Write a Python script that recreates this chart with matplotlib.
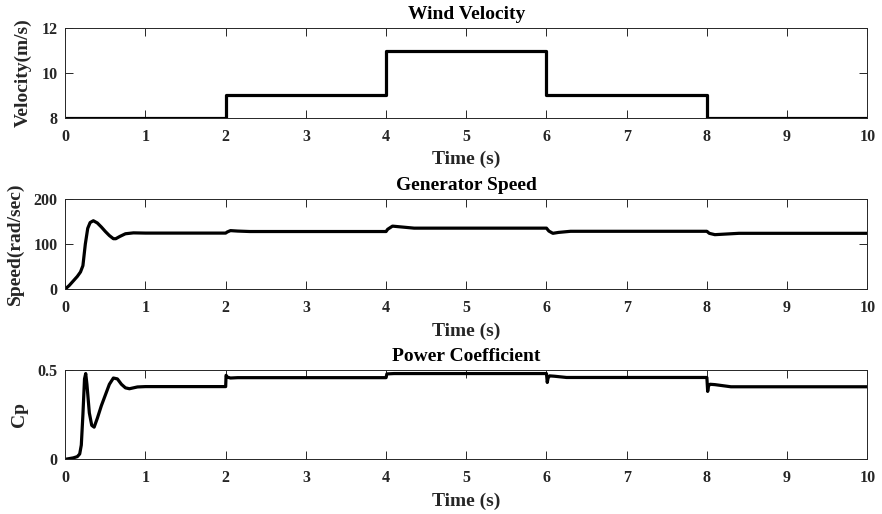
import numpy as np
import matplotlib
matplotlib.use('Agg')
import matplotlib.pyplot as plt

# wind steps (m/s)
wind_t = [0, 2, 4, 6, 8, 10]
wind_v = [8, 9, 11, 9, 8, 8]

# generator speed (rad/sec)
speed_t = [0, 0.05, 0.1, 0.15, 0.19, 0.22, 0.25, 0.28, 0.31, 0.35, 0.4, 0.45, 0.5,
           0.55, 0.6, 0.63, 0.68, 0.75, 0.85, 1.0, 2.0, 2.02, 2.06, 2.15, 2.3,
           4.0, 4.02, 4.08, 4.2, 4.35, 6.0, 6.03, 6.08, 6.15, 6.3,
           8.0, 8.03, 8.1, 8.2, 8.4, 10.0]
speed_w = [0, 8, 18, 28, 38, 52, 100, 135, 148, 152, 147, 138, 128,
           119, 112, 112, 117, 123, 125, 124.5, 124.5, 127, 130, 129, 128,
           128, 133, 140, 138, 135.5, 135.5, 129, 124, 126, 128.5,
           128.5, 124, 121, 122, 124, 124]

# power coefficient
cp_t = [0, 0.1, 0.15, 0.18, 0.2, 0.22, 0.24, 0.255, 0.27, 0.3, 0.33, 0.36, 0.4,
        0.45, 0.5, 0.55, 0.6, 0.65, 0.7, 0.75, 0.8, 0.9, 1.0, 2.0, 2.005,
        2.02, 2.06, 2.15, 4.0, 4.01, 4.1, 6.0, 6.01, 6.02, 6.04, 6.1, 6.25,
        8.0, 8.01, 8.02, 8.04, 8.1, 8.3, 10.0]
cp_v = [0, 0.008, 0.015, 0.03, 0.08, 0.25, 0.45, 0.48, 0.42, 0.26, 0.19, 0.18, 0.23,
        0.3, 0.36, 0.42, 0.455, 0.45, 0.42, 0.40, 0.395, 0.405, 0.407, 0.407, 0.47,
        0.46, 0.455, 0.457, 0.457, 0.478, 0.48, 0.48, 0.43, 0.455, 0.467, 0.465, 0.458,
        0.458, 0.38, 0.41, 0.42, 0.418, 0.406, 0.406]

titles = ['Wind Velocity', 'Generator Speed', 'Power Coefficient']
ylabels = ['Velocity(m/s)', 'Speed(rad/sec)', 'Cp']
yticks = [[8, 10, 12], [0, 100, 200], [0, 0.5]]
yticklabels = [['8', '10', '12'], ['0', '100', '200'], ['0', '0.5']]
ylims = [(8, 12), (0, 200), (0, 0.5)]
xticks = list(range(0, 11))

plt.rcParams['font.family'] = ['Liberation Serif', 'DejaVu Serif']
plt.rcParams['font.weight'] = 'bold'
gray = '#262626'

fig = plt.figure(figsize=(8.82, 5.14), dpi=100)
rects = [(0.0740, 0.7710, 0.9093, 0.1740),
         (0.0740, 0.4377, 0.9093, 0.1748),
         (0.0740, 0.1064, 0.9093, 0.1738)]
series = [(wind_t, wind_v, 'steps-post'), (speed_t, speed_w, 'default'), (cp_t, cp_v, 'default')]

for i, r in enumerate(rects):
    ax = fig.add_axes(r)
    t, v, ds = series[i]
    ax.plot(t, v, color='black', lw=2.3, drawstyle=ds, solid_joinstyle='round')
    ax.set_xlim(0, 10)
    ax.set_ylim(*ylims[i])
    ax.set_xticks(xticks)
    ax.set_yticks(yticks[i])
    ax.set_yticklabels(yticklabels[i])
    ax.tick_params(direction='in', length=5.5, width=0.7, colors=gray,
                   labelsize=11.5, top=True, right=True)
    ax.tick_params(axis='x', pad=8)
    ax.tick_params(axis='y', pad=5.5)
    for sp in ax.spines.values():
        sp.set_linewidth(0.7)
        sp.set_color(gray)
    ax.set_title(titles[i], fontsize=14, fontweight='bold', color='black', pad=6.5)
    ax.set_xlabel('Time (s)', fontsize=14, fontweight='bold', color=gray, labelpad=4.5)
    ax.set_ylabel(ylabels[i], fontsize=14, fontweight='bold', color=gray, labelpad=7)

fig.savefig('out.png', dpi=100)
